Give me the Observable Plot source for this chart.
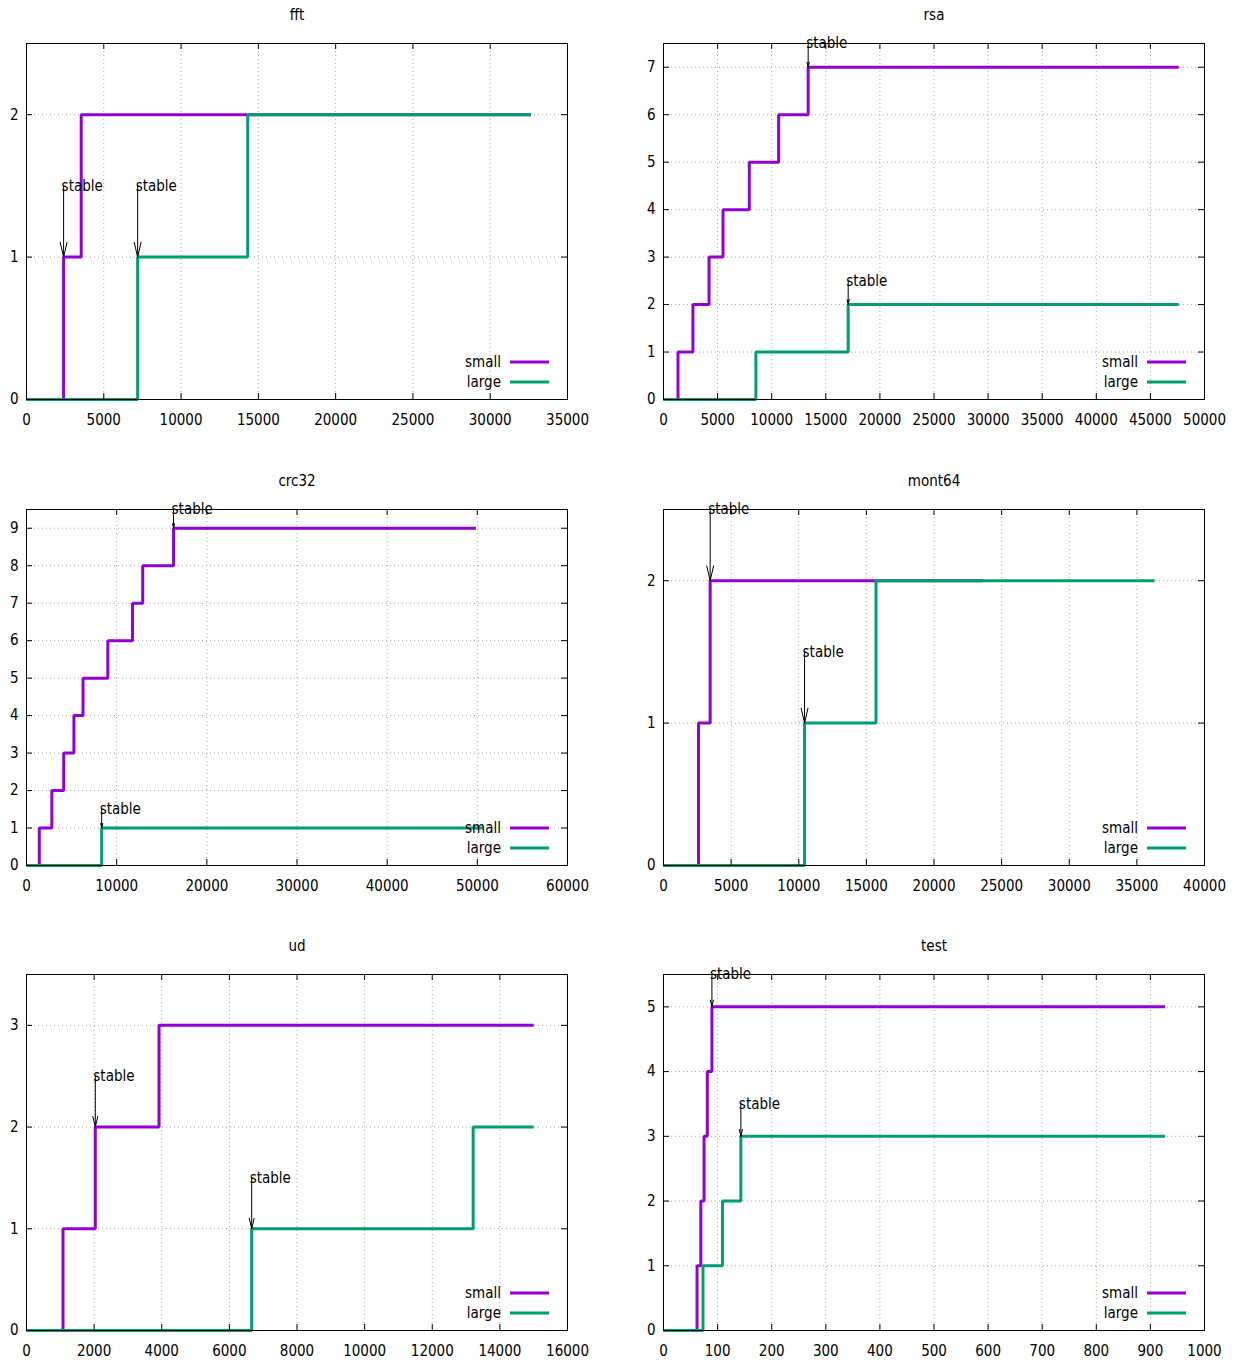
<!DOCTYPE html>
<html>
<head>
<meta charset="utf-8">
<script src="https://cdn.jsdelivr.net/npm/d3@7"></script>
<script src="https://cdn.jsdelivr.net/npm/@observablehq/plot@0.6"></script>
<style>
  html, body { margin: 0; padding: 0; background: #fff; }
  #root { position: relative; width: 1239px; height: 1363px; background: #fff; }
  .panel { position: absolute; }
</style>
</head>
<body>
<div id="root"></div>
<script>
// ---------------- data ----------------
const seriesNames = ["small", "large"];
const seriesColors = ["#9400d3", "#009e73"];
const stableText = "stable";

// fft
const fftSmallX = [0, 2400, 3540, 32630];
const fftSmallY = [0, 1, 2, 2];
const fftLargeX = [0, 7190, 14310, 32630];
const fftLargeY = [0, 1, 2, 2];
const fftStableX = [2400, 7190];
const fftStableY = [1, 1];
const fftXTicks = [0, 5000, 10000, 15000, 20000, 25000, 30000, 35000];
const fftYTicks = [0, 1, 2];
const fftYMax = 2.5;

// rsa
const rsaSmallX = [0, 1340, 2720, 4210, 5500, 7930, 10640, 13370, 47620];
const rsaSmallY = [0, 1, 2, 3, 4, 5, 6, 7, 7];
const rsaLargeX = [0, 8540, 17070, 47620];
const rsaLargeY = [0, 1, 2, 2];
const rsaStableX = [13370, 17070];
const rsaStableY = [7, 2];
const rsaXTicks = [0, 5000, 10000, 15000, 20000, 25000, 30000, 35000, 40000, 45000, 50000];
const rsaYTicks = [0, 1, 2, 3, 4, 5, 6, 7];
const rsaYMax = 7.5;

// crc32
const crcSmallX = [0, 1420, 2810, 4130, 5260, 6270, 9020, 11760, 12890, 16310, 49850];
const crcSmallY = [0, 1, 2, 3, 4, 5, 6, 7, 8, 9, 9];
const crcLargeX = [0, 8340, 50600];
const crcLargeY = [0, 1, 1];
const crcStableX = [16310, 8340];
const crcStableY = [9, 1];
const crcXTicks = [0, 10000, 20000, 30000, 40000, 50000, 60000];
const crcYTicks = [0, 1, 2, 3, 4, 5, 6, 7, 8, 9];
const crcYMax = 9.5;

// mont64
const montSmallX = [0, 2590, 3450, 23620];
const montSmallY = [0, 1, 2, 2];
const montLargeX = [0, 10430, 15710, 36310];
const montLargeY = [0, 1, 2, 2];
const montStableX = [3450, 10430];
const montStableY = [2, 1];
const montXTicks = [0, 5000, 10000, 15000, 20000, 25000, 30000, 35000, 40000];
const montYTicks = [0, 1, 2];
const montYMax = 2.5;

// ud
const udSmallX = [0, 1080, 2035, 3920, 15000];
const udSmallY = [0, 1, 2, 3, 3];
const udLargeX = [0, 6660, 13210, 15000];
const udLargeY = [0, 1, 2, 2];
const udStableX = [2035, 6660];
const udStableY = [2, 1];
const udXTicks = [0, 2000, 4000, 6000, 8000, 10000, 12000, 14000, 16000];
const udYTicks = [0, 1, 2, 3];
const udYMax = 3.5;

// test
const testSmallX = [0, 62, 69, 75, 81, 89.5, 927];
const testSmallY = [0, 1, 2, 3, 4, 5, 5];
const testLargeX = [0, 73, 109, 143, 927];
const testLargeY = [0, 1, 2, 3, 3];
const testStableX = [89.5, 143];
const testStableY = [5, 3];
const testXTicks = [0, 100, 200, 300, 400, 500, 600, 700, 800, 900, 1000];
const testYTicks = [0, 1, 2, 3, 4, 5];
const testYMax = 5.5;

const titles = ["fft", "rsa", "crc32", "mont64", "ud", "test"];

// ---------------- build panel table ----------------
function zipXY(xs, ys, series) { return xs.map((x, i) => ({x, y: ys[i], series})); }
const panelData = [
  [fftSmallX, fftSmallY, fftLargeX, fftLargeY, fftStableX, fftStableY, fftXTicks, fftYTicks, fftYMax],
  [rsaSmallX, rsaSmallY, rsaLargeX, rsaLargeY, rsaStableX, rsaStableY, rsaXTicks, rsaYTicks, rsaYMax],
  [crcSmallX, crcSmallY, crcLargeX, crcLargeY, crcStableX, crcStableY, crcXTicks, crcYTicks, crcYMax],
  [montSmallX, montSmallY, montLargeX, montLargeY, montStableX, montStableY, montXTicks, montYTicks, montYMax],
  [udSmallX, udSmallY, udLargeX, udLargeY, udStableX, udStableY, udXTicks, udYTicks, udYMax],
  [testSmallX, testSmallY, testLargeX, testLargeY, testStableX, testStableY, testXTicks, testYTicks, testYMax]
].map((p, i) => ({
  title: titles[i],
  small: zipXY(p[0], p[1], seriesNames[0]),
  large: zipXY(p[2], p[3], seriesNames[1]),
  stable: p[4].map((x, j) => ({x, y: p[5][j]})),
  xTicks: p[6], yTicks: p[7], yMax: p[8]
}));

// ---------------- layout / style ----------------
const FONT = "'DejaVu Sans Condensed', 'DejaVu Sans', sans-serif";
const FS = 15;
const FRAME_W = 541, FRAME_H = 356, TICK = 6;
const LABEL_OFFSET = 0.5;
const rowTops = [0, 466, 931];
const colLefts = [0, 620];
const colMargins = [{left: 26, right: 53}, {left: 43, right: 35}];
const MT = 43, MB = 32;

function legendMark() {
  return (index, scales, values, dims) => {
    const right = dims.width - dims.marginRight;
    const bottom = dims.height - dims.marginBottom;
    const g = d3.create("svg:g");
    seriesNames.forEach((name, i) => {
      const y = bottom - 37 + i * 20;
      g.append("text").attr("x", right - 66).attr("y", y).attr("dy", "0.35em")
        .attr("text-anchor", "end").attr("font-size", FS).attr("fill", "black").text(name);
      g.append("line").attr("x1", right - 57).attr("x2", right - 18).attr("y1", y).attr("y2", y)
        .attr("stroke", seriesColors[i]).attr("stroke-width", 3);
    });
    return g.node();
  };
}

const root = document.getElementById("root");
panelData.forEach((p, i) => {
  const col = i % 2, row = Math.floor(i / 2);
  const m = colMargins[col];
  const width = m.left + FRAME_W + m.right;
  const height = MT + FRAME_H + MB;
  const xMax = p.xTicks[p.xTicks.length - 1];
  const pxPerUnit = FRAME_H / p.yMax;
  const headLen = Math.max(7, 0.32 * LABEL_OFFSET * pxPerUnit);
  const interiorX = p.xTicks.filter(d => d > 0 && d < xMax);
  const interiorY = p.yTicks.filter(d => d > 0 && d < p.yMax);

  const chart = Plot.plot({
    width, height,
    marginLeft: m.left, marginRight: m.right, marginTop: MT, marginBottom: MB,
    style: {fontFamily: FONT, fontSize: FS + "px", background: "white", color: "black", fontStretch: "condensed"},
    x: {domain: [0, xMax], nice: false},
    y: {domain: [0, p.yMax], nice: false},
    marks: [
      Plot.ruleX(interiorX, {x: d => d, stroke: "#a8a8a8", strokeWidth: 1, strokeDasharray: "1,3"}),
      Plot.ruleY(interiorY, {y: d => d, stroke: "#a8a8a8", strokeWidth: 1, strokeDasharray: "1,3"}),
      Plot.line(p.small, {x: "x", y: "y", curve: "step-after", stroke: seriesColors[0], strokeWidth: 3, strokeLinejoin: "miter", strokeLinecap: "butt"}),
      Plot.line(p.large, {x: "x", y: "y", curve: "step-after", stroke: seriesColors[1], strokeWidth: 3, strokeLinejoin: "miter", strokeLinecap: "butt"}),
      Plot.arrow(p.stable, {x1: "x", x2: "x", y1: d => d.y + LABEL_OFFSET, y2: "y", stroke: "black", strokeWidth: 1, headLength: headLen, headAngle: 26}),
      Plot.text(p.stable, {x: "x", y: d => d.y + LABEL_OFFSET, text: () => stableText, textAnchor: "start", dx: -2, fontSize: FS, fill: "black"}),
      Plot.frame({stroke: "black", strokeWidth: 1}),
      Plot.ruleX(p.xTicks, {x: d => d, insetTop: FRAME_H - TICK, stroke: "black"}),
      Plot.ruleX(p.xTicks, {x: d => d, insetBottom: FRAME_H - TICK, stroke: "black"}),
      Plot.ruleY(p.yTicks, {y: d => d, insetRight: FRAME_W - TICK, stroke: "black"}),
      Plot.ruleY(p.yTicks, {y: d => d, insetLeft: FRAME_W - TICK, stroke: "black"}),
      Plot.axisX(p.xTicks, {tickSize: 0, tickPadding: 15, tickFormat: d => String(d), label: null, fontSize: FS}),
      Plot.axisY(p.yTicks, {tickSize: 0, tickPadding: 8, tickFormat: d => String(d), label: null, fontSize: FS}),
      Plot.text([p.title], {frameAnchor: "top", dy: -34, text: d => d, fontSize: FS, fill: "black"}),
      legendMark()
    ]
  });
  const div = document.createElement("div");
  div.className = "panel";
  div.style.left = colLefts[col] + "px";
  div.style.top = rowTops[row] + "px";
  div.appendChild(chart);
  root.appendChild(div);
});
</script>
</body>
</html>
